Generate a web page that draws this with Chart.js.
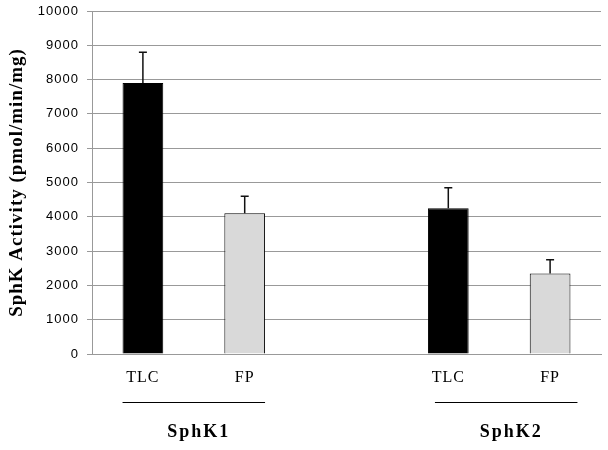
<!DOCTYPE html>
<html>
<head>
<meta charset="utf-8">
<script src="https://cdn.jsdelivr.net/npm/chart.js@4.4.0/dist/chart.umd.min.js"></script>
<style>
    html, body { margin: 0; padding: 0; background: #fff; }
    #wrap { width: 608px; height: 450px; }
</style>
</head>
<body>
<div id="wrap"><canvas id="sphk-chart"></canvas></div>
<script>
// Data
const categories = ['TLC', 'FP', '', 'TLC', 'FP'];
const activity = [7900, 4100, null, 4250, 2350];
const errors = [900, 500, null, 600, 400];
const groups = [
    { label: 'SphK1', from: 0, to: 1 },
    { label: 'SphK2', from: 3, to: 4 }
];
const barColors = ['#000000', '#d9d9d9', '#000000', '#000000', '#d9d9d9'];

// Wider letter spacing, like the old GDI rendering of the original
const spacingPlugin = {
    id: 'spacing',
    beforeDraw(chart) {
        chart.ctx.letterSpacing = '1px';
    }
};

// Error bars (upper arm only)
const errorBarPlugin = {
    id: 'errorBars',
    afterDatasetsDraw(chart) {
        const ctx = chart.ctx;
        const y = chart.scales.y;
        const meta = chart.getDatasetMeta(0);
        ctx.save();
        ctx.strokeStyle = '#111';
        ctx.lineWidth = 1.5;
        meta.data.forEach((bar, i) => {
            if (activity[i] == null) return;
            const top = y.getPixelForValue(activity[i] + errors[i]);
            const base = y.getPixelForValue(activity[i]);
            ctx.beginPath();
            ctx.moveTo(bar.x, base);
            ctx.lineTo(bar.x, top);
            ctx.moveTo(bar.x - 4, top);
            ctx.lineTo(bar.x + 4, top);
            ctx.stroke();
        });
        ctx.restore();
    }
};

// Group lines and labels below the x axis
const groupPlugin = {
    id: 'groupLabels',
    afterDraw(chart) {
        const ctx = chart.ctx;
        const x = chart.scales.x;
        const half = x.width / categories.length * 0.4 / 2;
        const shifts = [0, 7];
        ctx.save();
        groups.forEach((g, k) => {
            const x1 = x.getPixelForValue(g.from) - half + shifts[k];
            const x2 = x.getPixelForValue(g.to) + half + shifts[k];
            ctx.strokeStyle = '#000';
            ctx.lineWidth = 1;
            ctx.beginPath();
            ctx.moveTo(x1, 402.5);
            ctx.lineTo(x2, 402.5);
            ctx.stroke();
            ctx.fillStyle = '#000';
            ctx.letterSpacing = '2px';
            ctx.font = 'bold 18px "Liberation Serif"';
            ctx.textAlign = 'center';
            ctx.textBaseline = 'middle';
            ctx.fillText(g.label, (x1 + x2) / 2 + 5, 432);
        });
        ctx.restore();
    }
};

document.addEventListener('DOMContentLoaded', () => {
    const ctx = document.getElementById('sphk-chart').getContext('2d');
    new Chart(ctx, {
        type: 'bar',
        data: {
            labels: categories,
            datasets: [{
                data: activity,
                backgroundColor: barColors,
                borderColor: '#000',
                borderWidth: 1,
                barPercentage: 0.4,
                categoryPercentage: 1.0
            }]
        },
        plugins: [spacingPlugin, errorBarPlugin, groupPlugin],
        options: {
            responsive: true,
            maintainAspectRatio: false,
            animation: false,
            layout: { padding: { top: 11, right: 7, left: 6, bottom: 0 } },
            plugins: {
                legend: { display: false },
                tooltip: { enabled: false }
            },
            scales: {
                y: {
                    min: 0,
                    max: 10000,
                    ticks: {
                        stepSize: 1000,
                        color: '#000',
                        padding: 8,
                        font: { family: 'Liberation Sans', size: 13 },
                        callback: v => String(v)
                    },
                    grid: {
                        color: '#999',
                        tickLength: 5
                    },
                    border: { color: '#999' },
                    title: {
                        display: true,
                        text: 'SphK Activity (pmol/min/mg)',
                        color: '#000',
                        padding: 0,
                        font: { family: 'Liberation Serif', size: 19, weight: 'bold' }
                    },
                    afterFit(scale) {
                        scale.width = 86;
                        scale.paddingTop = 0;
                        scale.paddingBottom = 0;
                    }
                },
                x: {
                    ticks: {
                        color: '#000',
                        padding: 6,
                        font: { family: 'Liberation Serif', size: 16 }
                    },
                    grid: { display: false },
                    border: { color: '#999' },
                    afterFit(scale) { scale.height = 96; }
                }
            }
        }
    });
});
</script>
</body>
</html>
